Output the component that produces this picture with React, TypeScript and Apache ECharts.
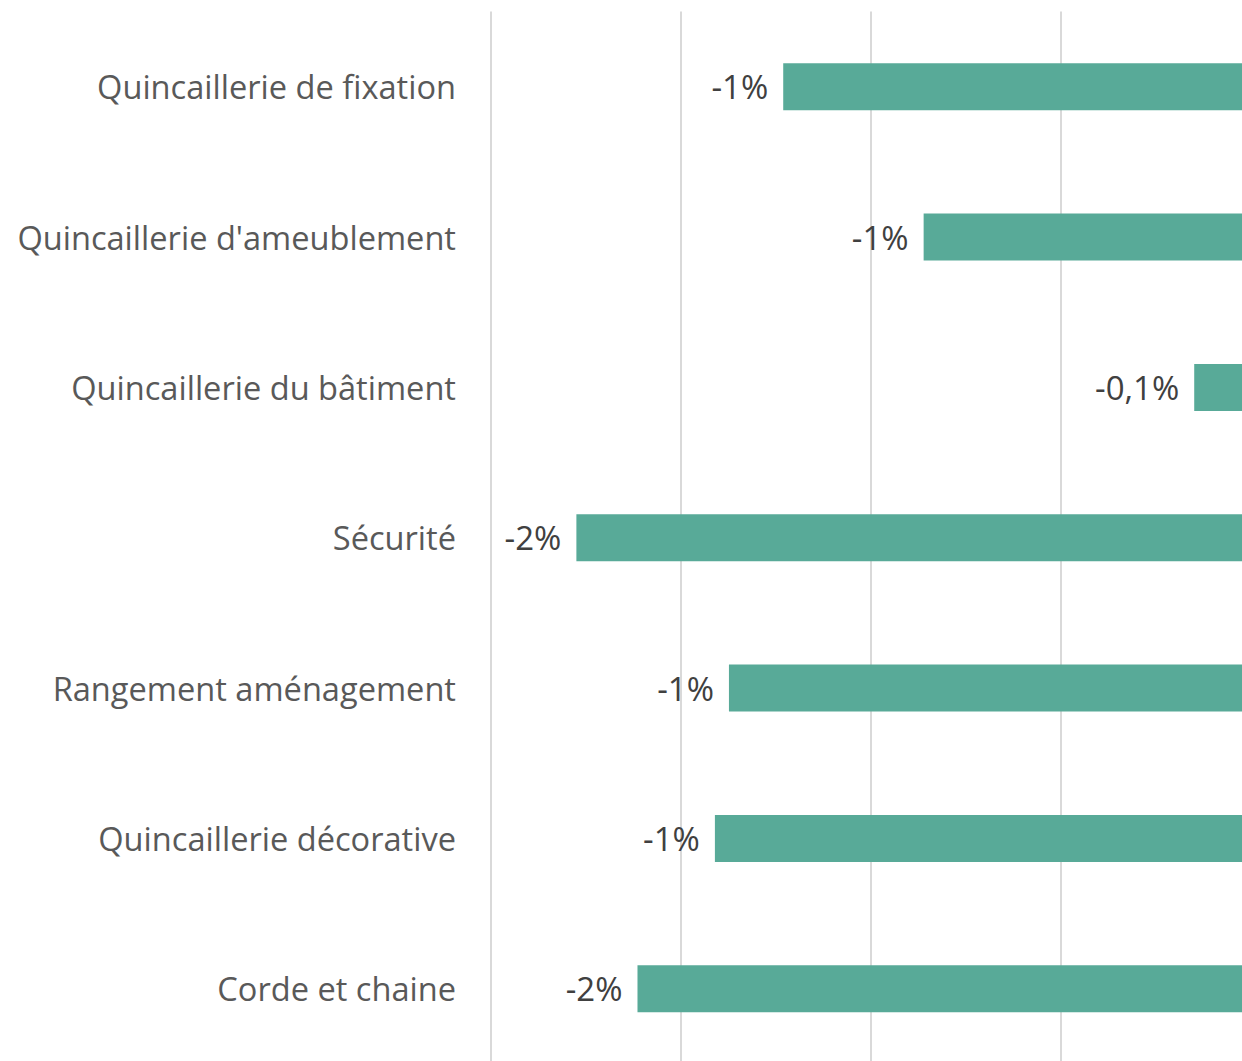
import React, { useEffect, useRef } from "react";
import * as echarts from "echarts";

const categories = [
  "Quincaillerie de fixation",
  "Quincaillerie d'ameublement",
  "Quincaillerie du bâtiment",
  "Sécurité",
  "Rangement aménagement",
  "Quincaillerie décorative",
  "Corde et chaine",
];
const values = [-1.23, -0.86, -0.147, -1.775, -1.373, -1.41, -1.614];
const dataLabels = ["-1%", "-1%", "-0,1%", "-2%", "-1%", "-1%", "-2%"];
const axisMin = -2;
const axisMax = 0;
const axisInterval = 0.5;

const FONT = "'Open Sans', 'Noto Sans', sans-serif";

export default function App() {
  const ref = useRef<HTMLDivElement>(null);
  useEffect(() => {
    if (!ref.current) return;
    const chart = echarts.init(ref.current, undefined, { renderer: "svg" });
    chart.setOption({
      animation: false,
      backgroundColor: "#ffffff",
      grid: { left: 491, right: 0, top: 11.5, bottom: 0, containLabel: false },
      xAxis: {
        type: "value",
        min: axisMin,
        max: axisMax,
        interval: axisInterval,
        axisLabel: { show: false },
        axisLine: { show: false },
        axisTick: { show: false },
        splitLine: { show: true, lineStyle: { color: "#d9d9d9", width: 2 } },
      },
      yAxis: {
        type: "category",
        data: categories,
        inverse: true,
        axisLine: { show: false },
        axisTick: { show: false },
        splitLine: { show: false },
        axisLabel: {
          margin: 35,
          color: "#595959",
          fontSize: 32.6,
          fontFamily: FONT,
        },
      },
      series: [
        {
          type: "bar",
          data: values,
          barWidth: 47,
          itemStyle: { color: "#58aa98" },
          label: {
            show: true,
            position: "left",
            distance: 15,
            color: "#404040",
            fontSize: 33,
            fontFamily: FONT,
            formatter: (p: any) => dataLabels[p.dataIndex],
          },
        },
      ],
    });
    return () => chart.dispose();
  }, []);
  return (
    <div
      style={{
        position: "absolute",
        left: 0,
        top: 0,
        width: 1242,
        height: 1061,
        overflow: "hidden",
        background: "#ffffff",
      }}
    >
      <div ref={ref} style={{ width: 1250, height: 1064 }} />
    </div>
  );
}
